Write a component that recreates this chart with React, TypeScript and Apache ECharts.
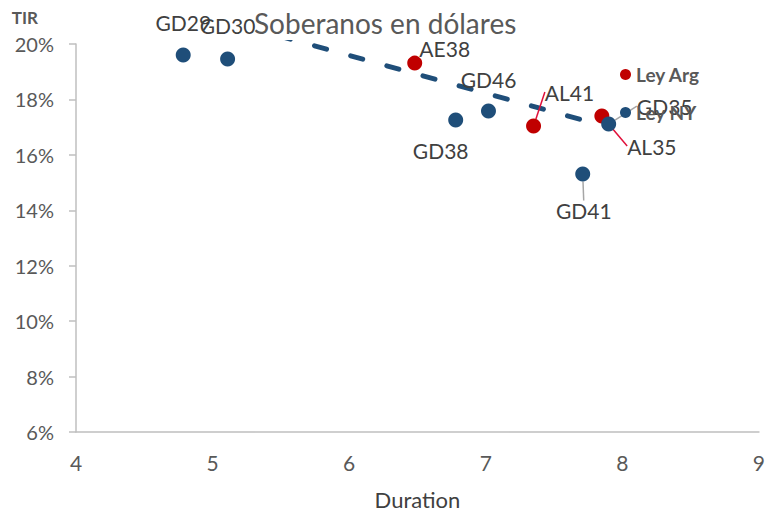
import React, { useEffect, useRef } from "react";
import * as echarts from "echarts";

// ---- Data ----
const argNames = ["AE38", "AL41", "AL35"];
const argDuration = [6.48, 7.35, 7.85];
const argTir = [19.31, 17.04, 17.4];

const nyNames = ["GD29", "GD30", "GD38", "GD46", "GD35", "GD41"];
const nyDuration = [4.785, 5.11, 6.78, 7.02, 7.9, 7.71];
const nyTir = [19.6, 19.46, 17.26, 17.58, 17.11, 15.31];

const trendDuration = [5.45, 7.75];
const trendTir = [20.34, 17.2];

const seriesNames = ["Ley Arg", "Ley NY"];
const titleText = "Soberanos en dólares";
const xName = "Duration";
const yName = "TIR";

// ---- Styling (label offsets in pixels, leader lines) ----
const labelOffsets: Record<string, [number, number]> = {
  AE38: [30, -15],
  AL41: [36, -34],
  AL35: [50, 30],
  GD29: [0, -33],
  GD30: [0, -33],
  GD38: [-15, 31],
  GD46: [0, -32],
  GD35: [56, -18],
  GD41: [1, 37],
};
const leaderLines: Record<string, string> = {
  AL41: "#E0103A",
  AL35: "#E0103A",
  GD35: "#A6A6A6",
  GD41: "#A6A6A6",
};

const RED = "#C00000";
const BLUE = "#1F4E79";
const FONT = "Lato";

function makeItems(names: string[], xs: number[], ys: number[]) {
  return names.map((n, i) => ({
    name: n,
    value: [xs[i], ys[i]],
    labelLine: leaderLines[n]
      ? { show: true, lineStyle: { color: leaderLines[n], width: 1.5 } }
      : { show: false },
  }));
}

export default function App() {
  const ref = useRef<HTMLDivElement>(null);
  useEffect(() => {
    if (!ref.current) return;
    const chart = echarts.init(ref.current, undefined, { renderer: "svg" });
    const allNames = [argNames, nyNames];
    const labelStyle = {
      show: true,
      position: "inside",
      formatter: "{b}",
      fontFamily: FONT,
      fontSize: 21,
      color: "#404040",
    };
    chart.setOption({
      animation: false,
      backgroundColor: "#ffffff",
      textStyle: { fontFamily: FONT },
      title: {
        text: titleText,
        left: 252,
        top: 6,
        z: 2,
        backgroundColor: "#ffffff",
        padding: [3, 2, 3, 2],
        textStyle: { fontFamily: FONT, fontSize: 28, fontWeight: "normal", color: "#595959" },
      },
      legend: {
        data: seriesNames,
        orient: "vertical",
        left: 615,
        top: 60,
        itemWidth: 11,
        itemHeight: 11,
        itemGap: 19,
        icon: "circle",
        textStyle: { fontFamily: FONT, fontSize: 19, fontWeight: "bold", color: "#595959" },
      },
      grid: { left: 76, right: 5, top: 44, bottom: 86 },
      xAxis: {
        type: "value",
        min: 4,
        max: 9,
        interval: 1,
        name: xName,
        nameLocation: "middle",
        nameGap: 56,
        nameTextStyle: { fontFamily: FONT, fontSize: 22, color: "#404040" },
        axisLine: { show: true, lineStyle: { color: "#BFBFBF", width: 1.5 } },
        axisTick: { show: false },
        axisLabel: { fontSize: 21, color: "#595959", margin: 20 },
        splitLine: { show: false },
      },
      yAxis: {
        type: "value",
        min: 6,
        max: 20,
        interval: 2,
        name: yName,
        nameLocation: "end",
        nameGap: 18,
        nameTextStyle: {
          fontFamily: FONT,
          fontSize: 17,
          fontWeight: "bold",
          color: "#595959",
          align: "right",
          padding: [0, 38, 0, 0],
        },
        axisLine: { show: true, lineStyle: { color: "#BFBFBF", width: 1.5 } },
        axisTick: { show: true, length: 7, lineStyle: { color: "#BFBFBF", width: 1.5 } },
        axisLabel: { fontSize: 20, color: "#595959", margin: 22, formatter: "{value}%" },
        splitLine: { show: false },
      },
      series: [
        {
          name: "Tendencia",
          type: "line",
          data: trendDuration.map((x, i) => [x, trendTir[i]]),
          symbol: "none",
          clip: false,
          z: 1,
          lineStyle: { color: BLUE, width: 5, type: [12.5, 25], dashOffset: 32.5, cap: "round" },
        },
        {
          name: seriesNames[0],
          type: "scatter",
          symbolSize: 15,
          itemStyle: { color: RED, opacity: 1 },
          z: 3,
          data: makeItems(argNames, argDuration, argTir),
          label: labelStyle,
        },
        {
          name: seriesNames[1],
          type: "scatter",
          symbolSize: 15,
          itemStyle: { color: BLUE, opacity: 1 },
          z: 3,
          data: makeItems(nyNames, nyDuration, nyTir),
          label: labelStyle,
        },
      ],
      labelLayout: (params: any) => {
        const si = params.seriesIndex;
        if (si < 1) return {};
        const name = allNames[si - 1][params.dataIndex];
        const off = labelOffsets[name] || [0, 0];
        return { dx: off[0], dy: off[1] };
      },
    });
    return () => chart.dispose();
  }, []);
  return (
    <div
      ref={ref}
      style={{ position: "absolute", left: 0, top: 0, width: 768, height: 518 }}
    />
  );
}
